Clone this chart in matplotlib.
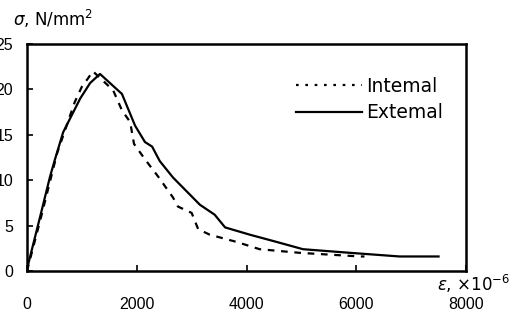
import matplotlib
matplotlib.use("Agg")
import matplotlib.pyplot as plt
from matplotlib.lines import Line2D
from matplotlib import font_manager

# Data
ext_x = [0, 20, 240, 420, 510, 660, 970, 1150, 1330, 1730, 1970, 2150, 2280, 2420,
         2660, 3150, 3420, 3610, 4060, 4550, 5030, 5890, 6790, 7500]
ext_y = [0, 0.7, 6.0, 10.4, 12.3, 15.3, 19.0, 20.7, 21.7, 19.5, 16.0, 14.2, 13.7, 12.1,
         10.3, 7.3, 6.2, 4.8, 4.0, 3.2, 2.4, 2.0, 1.6, 1.6]
int_x = [0, 250, 550, 870, 1000, 1110, 1200, 1570, 1730, 1880, 1950, 2150, 2390, 2660,
         2750, 3000, 3120, 3330, 3820, 4240, 4970, 6070, 6150]
int_y = [0, 5.8, 13.0, 18.6, 20.3, 21.2, 22.0, 19.9, 17.7, 16.4, 14.0, 12.3, 10.4, 8.1,
         7.1, 6.4, 4.6, 4.0, 3.2, 2.4, 2.0, 1.6, 1.6]
x_ticks = [0, 2000, 4000, 6000, 8000]
y_ticks = [0, 5, 10, 15, 20, 25]
labels = ["Intemal", "Extemal"]

installed = {f.name for f in font_manager.fontManager.ttflist}
tick_family = 'Liberation Sans Narrow' if 'Liberation Sans Narrow' in installed else 'Liberation Sans'
tick_size = 12.5 if tick_family == 'Liberation Sans Narrow' else 11.5

plt.rcParams['font.family'] = ['DejaVu Sans']
fig = plt.figure(figsize=(5.23, 3.21), dpi=100)
ax = fig.add_axes([27/523, 1-271/321, (466-27)/523, (271-44)/321])

ax.plot(int_x, int_y, color='black', lw=1.6, linestyle=(0, (3, 3)))
ax.plot(ext_x, ext_y, color='black', lw=1.6, linestyle='-')

ax.set_xlim(0, 8000)
ax.set_ylim(0, 25)
ax.set_xticks(x_ticks)
ax.set_yticks(y_ticks)
ax.tick_params(axis='both', direction='in', length=4, width=1.2)
ax.tick_params(axis='x', pad=19)
ax.tick_params(axis='y', pad=10)
for lab in ax.get_xticklabels() + ax.get_yticklabels():
    lab.set_fontfamily([tick_family, 'DejaVu Sans'])
    lab.set_fontsize(tick_size)
for s in ax.spines.values():
    s.set_linewidth(1.8)

handles = [Line2D([], [], color='black', lw=1.6, linestyle=(0, (1.2, 3))),
           Line2D([], [], color='black', lw=1.6, linestyle='-')]
ax.legend(handles, labels, loc='upper right', bbox_to_anchor=(0.985, 0.93),
          frameon=False, fontsize=13.5, handlelength=3.5, handletextpad=0.2,
          labelspacing=0.4)

fig.text(13/523, 1-19/321, r"$\sigma$, N/mm$^2$", fontsize=12, va='center', ha='left')
fig.text(474/523, 1-284/321, r"$\varepsilon$, ×10$^{-6}$", fontsize=12, va='center', ha='center')

fig.savefig("out.png", dpi=100)
